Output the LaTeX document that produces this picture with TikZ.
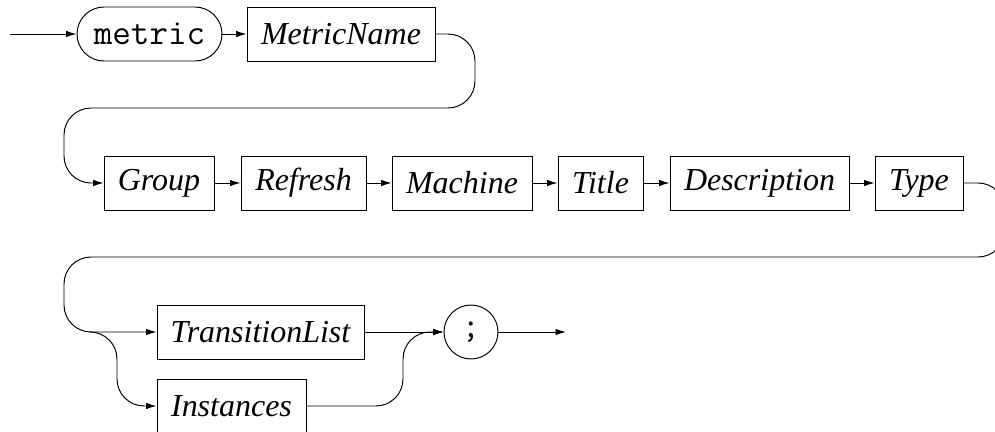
\documentclass[tikz,border=0pt]{standalone}
\usepackage{fontspec}
\setmainfont{Liberation Serif}
\usetikzlibrary{arrows.meta}

\begin{document}
\begin{tikzpicture}[
  every node/.style={font=\fontsize{18.2}{22}\selectfont\itshape},
  nterm/.style={draw, line width=0.55pt, minimum height=1.08cm, inner sep=0pt},
  term/.style={draw, line width=0.55pt, minimum height=1.08cm, inner sep=0pt,
               rounded corners=0.54cm, font=\fontsize{20.5}{24}\selectfont\ttfamily},
  rail/.style={line width=0.55pt, rounded corners=0.54cm},
  into/.style={rail, -{Latex[length=2.1mm, width=1.3mm]}},
]
  \useasboundingbox (0,0) rectangle (19.9,-8.64);

  % First line
  \node[term, minimum width=2.9cm] (metric) at (2.99,-0.68) {metric};
  \node[nterm, minimum width=3.76cm] (metricname) at (6.82,-0.68) {MetricName};

  % Second line
  \node[nterm, minimum width=2.2cm] (group) at (3.18,-3.66) {Group};
  \node[nterm, minimum width=2.5cm] (refresh) at (6.07,-3.66) {Refresh};
  \node[nterm, minimum width=2.8cm] (machine) at (9.24,-3.66) {Machine};
  \node[nterm, minimum width=1.7cm] (title) at (12.01,-3.66) {Title};
  \node[nterm, minimum width=3.58cm] (description) at (15.19,-3.66) {Description};
  \node[nterm, minimum width=1.76cm] (type) at (18.38,-3.66) {Type};

  % Third line
  \node[nterm, minimum width=4.14cm] (translist) at (5.21,-6.64) {TransitionList};
  \node[nterm, minimum width=2.98cm] (instances) at (4.63,-8.12) {Instances};
  \node[term, circle, minimum size=1.08cm] (semi) at (9.42,-6.64) {;};

  \coordinate (start) at (0.2,-0.68);
  \coordinate (split) at (1.8,-6.64);
  \coordinate (finish) at (11.32,-6.64);

  % Rails
  \draw[into] (start) -- (metric.west);
  \draw[into] (metric.east) -- (metricname.west);
  \draw[into] (metricname.east) -| (9.5,-2.16) -| (1.28,-3.66) -- (group.west);
  \foreach \a/\b in {group/refresh, refresh/machine, machine/title,
                     title/description, description/type}
    \draw[into] (\a.east) -- (\b.west);
  \draw[into] (type.east) -| (20.1,-5.14) -| (1.28,-6.64) -- (translist.west);
  \draw[into] (split) -| (2.34,-8.12) -- (instances.west);
  \draw[into] (translist.east) -- (semi.west);
  \draw[into] (instances.east) -| (8.06,-6.64) -- (semi.west);
  \draw[into] (semi.east) -- (finish);
\end{tikzpicture}
\end{document}
